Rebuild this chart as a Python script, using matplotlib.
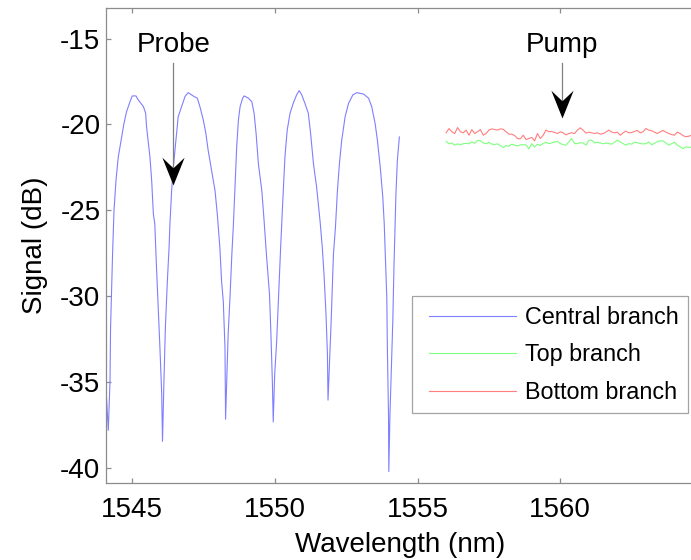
import matplotlib
matplotlib.use('Agg')
import matplotlib.pyplot as plt
from matplotlib.path import Path
from matplotlib.lines import Line2D
from matplotlib.legend_handler import HandlerLine2D

plt.rcParams['font.family'] = ['Liberation Sans', 'DejaVu Sans']
plt.rcParams['axes.unicode_minus'] = False

# ---------------- data ----------------
probe_wl = [1544.10, 1544.16, 1544.22, 1544.24, 1544.31, 1544.36, 1544.43, 1544.51, 1544.63, 1544.71,
            1544.80, 1544.92, 1545.00, 1545.13, 1545.21, 1545.39, 1545.47, 1545.50, 1545.62, 1545.68,
            1545.74, 1545.79, 1545.85, 1545.91, 1545.97, 1546.03, 1546.06, 1546.11, 1546.16, 1546.23,
            1546.29, 1546.32, 1546.38, 1546.44, 1546.53, 1546.61, 1546.73, 1546.85, 1546.96, 1547.08,
            1547.16, 1547.28, 1547.37, 1547.49, 1547.58, 1547.66, 1547.78, 1547.90, 1547.98, 1548.07,
            1548.13, 1548.19, 1548.25, 1548.27, 1548.31, 1548.36, 1548.43, 1548.49, 1548.54, 1548.60,
            1548.66, 1548.72, 1548.78, 1548.87, 1548.92, 1549.07, 1549.19, 1549.27, 1549.34, 1549.42,
            1549.54, 1549.62, 1549.71, 1549.81, 1549.86, 1549.91, 1549.94, 1549.99, 1550.06, 1550.13,
            1550.20, 1550.27, 1550.35, 1550.43, 1550.53, 1550.64, 1550.76, 1550.85, 1550.94, 1551.05,
            1551.17, 1551.25, 1551.35, 1551.46, 1551.58, 1551.66, 1551.72, 1551.79, 1551.84, 1551.86,
            1551.91, 1551.97, 1552.05, 1552.12, 1552.19, 1552.26, 1552.34, 1552.46, 1552.58, 1552.73,
            1552.87, 1553.10, 1553.28, 1553.39, 1553.51, 1553.59, 1553.69, 1553.78, 1553.83, 1553.88,
            1553.92, 1553.94, 1553.98, 1553.99, 1554.03, 1554.08, 1554.13, 1554.17, 1554.21, 1554.24,
            1554.29, 1554.36]
probe_db = [-35.97, -37.82, -34.99, -31.86, -27.56, -25.02, -23.26, -21.90, -20.73, -19.94,
            -19.26, -18.68, -18.34, -18.34, -18.57, -18.96, -19.35, -20.12, -21.90, -23.26,
            -25.22, -25.80, -28.34, -30.69, -33.03, -35.58, -38.46, -34.99, -31.86, -29.13,
            -27.17, -25.80, -23.85, -22.48, -20.92, -19.55, -18.96, -18.37, -18.15, -18.28,
            -18.37, -18.47, -18.96, -19.74, -20.53, -21.51, -22.68, -23.85, -25.22, -27.17,
            -29.13, -30.30, -33.03, -37.17, -34.99, -32.25, -29.91, -27.56, -26.00, -23.65,
            -21.31, -19.74, -18.96, -18.47, -18.34, -18.47, -18.68, -19.35, -20.53, -22.29,
            -23.85, -25.61, -27.76, -29.91, -32.25, -34.99, -37.33, -34.60, -32.65, -29.91,
            -27.17, -24.63, -21.90, -20.33, -19.35, -18.77, -18.28, -18.03, -18.28, -18.77,
            -19.35, -20.53, -22.29, -23.65, -25.61, -27.17, -28.73, -31.08, -33.42, -36.06,
            -34.01, -31.47, -27.56, -26.00, -23.85, -22.29, -20.92, -19.55, -18.77, -18.28,
            -18.15, -18.23, -18.47, -18.96, -19.94, -20.92, -22.48, -24.24, -25.80, -28.15,
            -30.10, -33.03, -36.94, -40.22, -36.94, -34.21, -31.47, -28.34, -26.00, -24.04,
            -22.09, -20.73]

pump_wl = [1556.0, 1556.1, 1556.2, 1556.3, 1556.4, 1556.5, 1556.6, 1556.7, 1556.8, 1556.9,
           1557.0, 1557.1, 1557.2, 1557.3, 1557.4, 1557.5, 1557.6, 1557.7, 1557.8, 1557.9,
           1558.0, 1558.1, 1558.2, 1558.3, 1558.4, 1558.5, 1558.6, 1558.7, 1558.8, 1558.9,
           1559.0, 1559.1, 1559.2, 1559.3, 1559.4, 1559.5, 1559.6, 1559.7, 1559.8, 1559.9,
           1560.0, 1560.1, 1560.2, 1560.3, 1560.4, 1560.5, 1560.6, 1560.7, 1560.8, 1560.9,
           1561.0, 1561.1, 1561.2, 1561.3, 1561.4, 1561.5, 1561.6, 1561.7, 1561.8, 1561.9,
           1562.0, 1562.1, 1562.2, 1562.3, 1562.4, 1562.5, 1562.6, 1562.7, 1562.8, 1562.9,
           1563.0, 1563.1, 1563.2, 1563.3, 1563.4, 1563.5, 1563.6, 1563.7, 1563.8, 1563.9,
           1564.0, 1564.1, 1564.2, 1564.3, 1564.4, 1564.5, 1564.6]
top_db = [-20.98, -21.13, -21.08, -21.21, -21.13, -21.19, -21.12, -21.10, -21.13, -21.02,
          -21.10, -20.94, -20.94, -21.08, -21.13, -21.04, -21.15, -21.17, -21.13, -21.23,
          -21.35, -21.23, -21.27, -21.15, -21.21, -21.25, -21.19, -21.19, -21.19, -21.43,
          -21.12, -21.31, -21.15, -21.23, -21.12, -21.04, -21.12, -21.08, -21.02, -20.98,
          -21.12, -21.17, -21.21, -21.02, -20.82, -21.12, -21.12, -21.06, -21.08, -21.21,
          -20.92, -20.92, -21.08, -21.04, -21.08, -21.13, -21.08, -21.12, -21.15, -21.04,
          -20.92, -21.02, -21.12, -21.21, -21.12, -21.15, -21.04, -21.06, -21.12, -21.13,
          -21.13, -21.02, -21.19, -21.10, -21.00, -20.96, -20.96, -21.08, -21.21, -21.12,
          -21.04, -21.21, -21.31, -21.41, -21.31, -21.35, -21.31]
bottom_db = [-20.49, -20.24, -20.43, -20.53, -20.18, -20.43, -20.49, -20.33, -20.63, -20.30,
             -20.53, -20.43, -20.30, -20.63, -20.53, -20.33, -20.26, -20.30, -20.33, -20.26,
             -20.28, -20.43, -20.57, -20.57, -20.65, -20.82, -20.84, -20.63, -20.88, -20.82,
             -20.76, -20.96, -20.53, -20.82, -20.63, -20.33, -20.43, -20.41, -20.47, -20.53,
             -20.43, -20.49, -20.61, -20.53, -20.49, -20.53, -20.33, -20.20, -20.33, -20.51,
             -20.45, -20.49, -20.53, -20.49, -20.57, -20.53, -20.45, -20.33, -20.45, -20.49,
             -20.45, -20.63, -20.49, -20.39, -20.49, -20.47, -20.41, -20.35, -20.49, -20.43,
             -20.24, -20.33, -20.37, -20.45, -20.53, -20.43, -20.35, -20.45, -20.53, -20.59,
             -20.63, -20.45, -20.53, -20.65, -20.72, -20.69, -20.63]

series_labels = ['Central branch', 'Top branch', 'Bottom branch']
x_ticks = [1545, 1550, 1555, 1560]
y_ticks = [-40, -35, -30, -25, -20, -15]

# annotation anchors (data units)
probe_arrow = (1546.44, -16.40, -23.55)   # x, start y, tip y
pump_arrow = (1560.07, -16.40, -19.60)
label_y = -15.35

# ---------------- figure ----------------
W, H = 691, 560
fig = plt.figure(figsize=(W / 100, H / 100), dpi=100)
ax = fig.add_axes([106 / W, (H - 482.7) / H, (695 - 106) / W, (482.7 - 7.5) / H])

c_blue = '#7f7fff'
c_green = '#7fff7f'
c_red = '#ff7f7f'
lw = 0.8

ax.plot(probe_wl, probe_db, color=c_blue, lw=lw, label=series_labels[0])
ax.plot(pump_wl, top_db, color=c_green, lw=lw, label=series_labels[1])
ax.plot(pump_wl, bottom_db, color=c_red, lw=lw, label=series_labels[2])

ax.set_xlim(1544.08, 1564.72)
ax.set_ylim(-40.87, -13.19)
ax.set_xticks(x_ticks)
ax.set_yticks(y_ticks)

spine_c = '#8c8c8c'
for s in ax.spines.values():
    s.set_color(spine_c)
    s.set_linewidth(0.9)
ax.spines['right'].set_visible(False)

fs = 20
ax.tick_params(direction='in', length=3.6, width=0.9, color=spine_c,
               top=True, right=False, labelsize=fs)
ax.tick_params(axis='x', pad=10)
ax.tick_params(axis='y', pad=4)
ax.set_xlabel('Wavelength (nm)', fontsize=fs, labelpad=7)
ax.set_ylabel('Signal (dB)', fontsize=fs, labelpad=8.5)

# arrows
head = Path([(0, 0), (-0.4, 1), (0, 0.62), (0.4, 1), (0, 0)],
            [Path.MOVETO, Path.LINETO, Path.LINETO, Path.LINETO, Path.CLOSEPOLY])
for (ax_x, y0, y1), txt in [(probe_arrow, 'Probe'), (pump_arrow, 'Pump')]:
    ax.plot([ax_x, ax_x], [y0, y1 + 0.6], color='#808080', lw=0.9)
    ax.plot([ax_x], [y1], marker=head, ms=40, color='black', mew=0, linestyle='none')
    ax.text(ax_x, label_y, txt, ha='center', va='center', fontsize=fs)

leg = ax.legend(loc='lower right', bbox_to_anchor=((688 - 106) / 589, (482.7 - 413) / 475.2),
                borderaxespad=0, fontsize=16.8, frameon=True, fancybox=False,
                handlelength=4.05, handletextpad=0.4, labelspacing=0.62, borderpad=0.4,
                handler_map={Line2D: HandlerLine2D(xpad=0.35)})
leg.get_frame().set_edgecolor('#8c8c8c')
leg.get_frame().set_linewidth(0.9)

fig.savefig('out.png', dpi=100)
